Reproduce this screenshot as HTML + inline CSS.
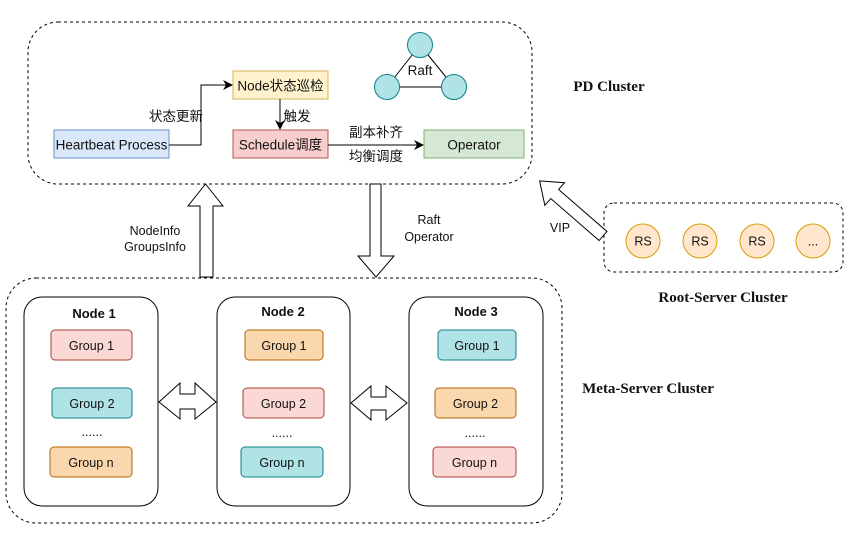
<!DOCTYPE html>
<html><head><meta charset="utf-8"><style>
html,body{margin:0;padding:0;background:#fff;}
svg{display:block;}
text{font-family:"Liberation Sans","Noto Sans CJK SC",sans-serif;font-size:12.5px;fill:#111;}
.m{font-size:13.5px;}
.b{font-family:"Liberation Serif","Noto Serif CJK SC",serif;font-weight:bold;font-size:15px;}
.nb{font-weight:bold;font-size:13px;}
</style></head><body>
<svg width="852" height="540" viewBox="0 0 852 540" xmlns="http://www.w3.org/2000/svg">
<defs><marker id="ar" markerWidth="10" markerHeight="10" refX="9" refY="5" orient="auto" markerUnits="userSpaceOnUse"><path d="M0,0 L10,5 L0,10 L3,5 Z" fill="#000"/></marker></defs>
<rect x="28" y="22" width="504" height="162" rx="30" fill="none" stroke="#000" stroke-dasharray="3,3"/>
<rect x="54" y="130" width="115" height="28" fill="#dae8fc" stroke="#6c8ebf"/>
<text class="m" x="111.5" y="149.5" text-anchor="middle">Heartbeat Process</text>
<rect x="233" y="71" width="95" height="28" fill="#fff2cc" stroke="#d6b656"/>
<text class="m" x="280.5" y="90.5" text-anchor="middle">Node状态巡检</text>
<rect x="233" y="130" width="95" height="28" fill="#f8cecc" stroke="#b85450"/>
<text class="m" x="280.5" y="149.5" text-anchor="middle">Schedule调度</text>
<rect x="424" y="130" width="100" height="28" fill="#d5e8d4" stroke="#82b366"/>
<text class="m" x="474" y="149.5" text-anchor="middle">Operator</text>
<path d="M169,145 H201 V85 H232" fill="none" stroke="#000" marker-end="url(#ar)"/>
<text class="m" x="176" y="121" text-anchor="middle">状态更新</text>
<path d="M280,99 V129" fill="none" stroke="#000" marker-end="url(#ar)"/>
<text class="m" x="297" y="121" text-anchor="middle">触发</text>
<path d="M328,145 H423" fill="none" stroke="#000" marker-end="url(#ar)"/>
<text class="m" x="376" y="137" text-anchor="middle">副本补齐</text>
<text class="m" x="376" y="161" text-anchor="middle">均衡调度</text>
<line x1="420" y1="45" x2="387" y2="87" stroke="#000"/>
<line x1="420" y1="45" x2="454" y2="87" stroke="#000"/>
<line x1="387" y1="87" x2="454" y2="87" stroke="#000"/>
<circle cx="420" cy="45" r="12.5" fill="#b0e3e6" stroke="#0e8088"/>
<circle cx="387" cy="87" r="12.5" fill="#b0e3e6" stroke="#0e8088"/>
<circle cx="454" cy="87" r="12.5" fill="#b0e3e6" stroke="#0e8088"/>
<text class="m" x="420" y="75" text-anchor="middle">Raft</text>
<text class="b" x="609" y="91" text-anchor="middle">PD Cluster</text>
<path d="M200,277 V206 H188 L205.5,184 L223,206 H213 V277 Z" fill="#fff" stroke="#000"/>
<text x="155" y="235" text-anchor="middle">NodeInfo</text>
<text x="155" y="251" text-anchor="middle">GroupsInfo</text>
<path d="M370,184 V256 H358 L376,277 L394,256 H381 V184 Z" fill="#fff" stroke="#000"/>
<text x="429" y="224" text-anchor="middle">Raft</text>
<text x="429" y="241" text-anchor="middle">Operator</text>
<rect x="604" y="203" width="239" height="69" rx="10" fill="none" stroke="#000" stroke-dasharray="3,3"/>
<g fill="#ffe6cc" stroke="#d79b00">
<circle cx="643" cy="241" r="17"/><circle cx="700" cy="241" r="17"/><circle cx="757" cy="241" r="17"/><circle cx="813" cy="241" r="17"/>
</g>
<text x="643" y="245.5" text-anchor="middle">RS</text>
<text x="700" y="245.5" text-anchor="middle">RS</text>
<text x="757" y="245.5" text-anchor="middle">RS</text>
<text x="813" y="245.5" text-anchor="middle">...</text>
<text class="b" x="723" y="302" text-anchor="middle">Root-Server Cluster</text>
<path transform="translate(603,236) rotate(221)" d="M0,-6 H64 V-15 L84,0 L64,15 V6 H0 Z" fill="#fff" stroke="#000"/>
<text x="560" y="232" text-anchor="middle">VIP</text>
<rect x="6" y="278" width="556" height="245" rx="30" fill="none" stroke="#000" stroke-dasharray="3,3"/>
<text class="b" x="648" y="393" text-anchor="middle">Meta-Server Cluster</text>
<rect x="24" y="297" width="134" height="209" rx="18" fill="#fff" stroke="#000"/>
<rect x="217" y="297" width="133" height="209" rx="18" fill="#fff" stroke="#000"/>
<rect x="409" y="297" width="134" height="209" rx="18" fill="#fff" stroke="#000"/>
<text class="nb" x="94" y="318" text-anchor="middle">Node 1</text>
<text class="nb" x="283" y="316" text-anchor="middle">Node 2</text>
<text class="nb" x="476" y="316" text-anchor="middle">Node 3</text>
<g stroke-width="1">
<rect x="51" y="330" width="81" height="30" rx="4" fill="#fad9d5" stroke="#ae4132"/>
<rect x="52" y="388" width="80" height="30" rx="4" fill="#b0e3e6" stroke="#0e8088"/>
<rect x="50" y="447" width="82" height="30" rx="4" fill="#fad7ac" stroke="#b46504"/>
<rect x="245" y="330" width="78" height="30" rx="4" fill="#fad7ac" stroke="#b46504"/>
<rect x="243" y="388" width="81" height="30" rx="4" fill="#fad9d5" stroke="#ae4132"/>
<rect x="241" y="447" width="82" height="30" rx="4" fill="#b0e3e6" stroke="#0e8088"/>
<rect x="438" y="330" width="78" height="30" rx="4" fill="#b0e3e6" stroke="#0e8088"/>
<rect x="435" y="388" width="81" height="30" rx="4" fill="#fad7ac" stroke="#b46504"/>
<rect x="433" y="447" width="83" height="30" rx="4" fill="#fad9d5" stroke="#ae4132"/>
</g>
<text x="91.5" y="350" text-anchor="middle">Group 1</text>
<text x="92" y="408" text-anchor="middle">Group 2</text>
<text x="92" y="436" text-anchor="middle">......</text>
<text x="91" y="467" text-anchor="middle">Group n</text>
<text x="284" y="350" text-anchor="middle">Group 1</text>
<text x="283.5" y="408" text-anchor="middle">Group 2</text>
<text x="282" y="437" text-anchor="middle">......</text>
<text x="282" y="467" text-anchor="middle">Group n</text>
<text x="477" y="350" text-anchor="middle">Group 1</text>
<text x="475.5" y="408" text-anchor="middle">Group 2</text>
<text x="475" y="437" text-anchor="middle">......</text>
<text x="474.5" y="467" text-anchor="middle">Group n</text>
<path d="M159,402 L180,383 V394 H195 V383 L216,402 L195,419 V409 H180 V419 Z" fill="#fff" stroke="#000"/>
<path d="M351,403 L371,386 V397 H386 V386 L407,403 L386,420 V410 H371 V420 Z" fill="#fff" stroke="#000"/>
</svg>
</body></html>
